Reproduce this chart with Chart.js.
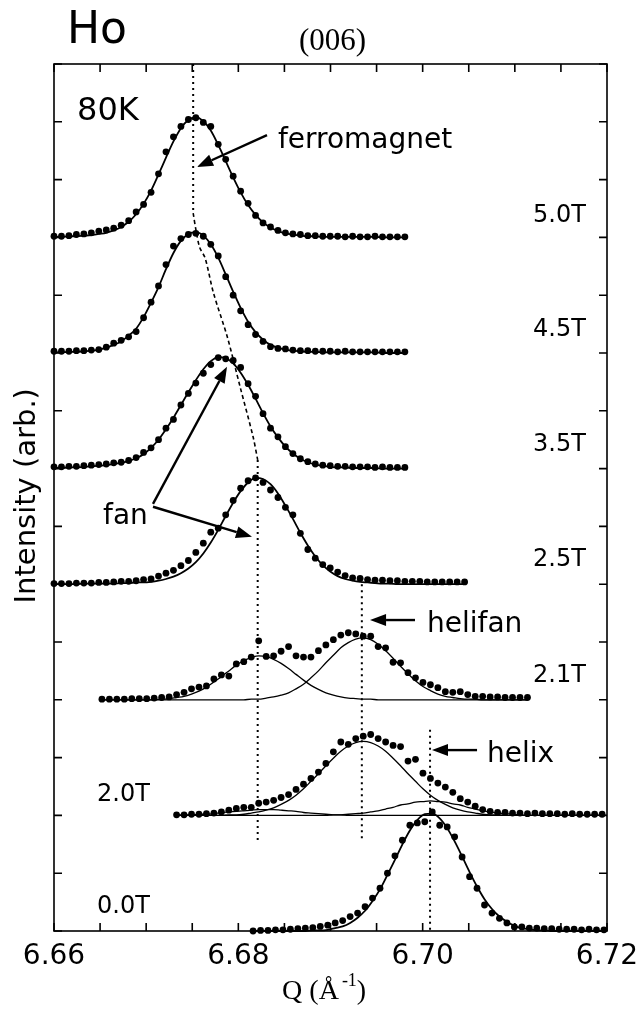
<!DOCTYPE html>
<html>
<head>
<meta charset="utf-8">
<title>Ho (006) field scans</title>
<script src="https://cdn.jsdelivr.net/npm/chart.js@4.4.0/dist/chart.umd.min.js"></script>
<style>
  html, body { margin: 0; padding: 0; background: #fff; }
  #wrap { width: 639px; height: 1011px; }
</style>
</head>
<body>
<div id="wrap"><canvas id="chart" width="639" height="1011"></canvas></div>
<script>
// (006) scans of Ho at 80K, one trace per applied field, stacked by offset
const FIELDS = ['5.0T', '4.5T', '3.5T', '2.5T', '2.1T', '2.0T', '0.0T'];
const OFFSETS = [12, 10, 8, 6, 4, 2, 0];
const Q_START = [6.6600, 6.6600, 6.6600, 6.6600, 6.6652, 6.6733, 6.6816];
const Q_STEP = 0.00081;

// measured intensity (dots) and fitted lines, above each trace's baseline
const OBS_50 = [0.02,0.02,0.03,0.05,0.06,0.08,0.11,0.13,0.16,0.21,0.29,0.44,0.57,0.78,1.10,1.48,1.74,1.92,2.04,2.07,
  1.99,1.92,1.61,1.35,1.06,0.80,0.59,0.38,0.25,0.18,0.12,0.08,0.06,0.05,0.03,0.03,0.02,0.02,0.02,0.01,
  0.02,0.01,0.01,0.02,0.01,0.01,0.01,0.01];
const FIT_50 = [0.01,0.01,0.02,0.02,0.03,0.04,0.06,0.08,0.12,0.18,0.27,0.40,0.58,0.81,1.09,1.38,1.66,1.89,2.03,2.08,
  2.01,1.85,1.60,1.32,1.04,0.78,0.56,0.39,0.26,0.17,0.11,0.07,0.05,0.03,0.02,0.02,0.01,0.01,0.01,0.01,
  0.01,0.01,0.01,0.01,0,0,0,0];

const OBS_45 = [0.03,0.03,0.03,0.04,0.04,0.05,0.06,0.10,0.17,0.22,0.28,0.37,0.61,0.88,1.16,1.53,1.85,1.98,2.05,2.07,
  2.02,1.88,1.68,1.32,1.00,0.73,0.49,0.32,0.20,0.11,0.08,0.07,0.05,0.04,0.04,0.03,0.03,0.03,0.02,0.03,
  0.02,0.02,0.02,0.02,0.02,0.02,0.02,0.02];
const FIT_45 = [0.01,0.01,0.02,0.02,0.03,0.04,0.06,0.09,0.14,0.20,0.30,0.42,0.62,0.87,1.14,1.45,1.73,1.94,2.06,2.09,
  2.03,1.88,1.65,1.36,1.06,0.78,0.54,0.36,0.23,0.14,0.09,0.06,0.04,0.03,0.02,0.02,0.01,0.01,0.01,0.01,
  0.01,0.01,0.01,0.01,0,0,0,0];

const OBS_35 = [0.03,0.03,0.04,0.04,0.05,0.06,0.07,0.08,0.10,0.11,0.14,0.19,0.28,0.36,0.50,0.70,0.85,1.10,1.30,1.48,
  1.65,1.80,1.92,1.90,1.87,1.75,1.47,1.25,0.95,0.70,0.55,0.38,0.26,0.17,0.12,0.08,0.06,0.05,0.04,0.04,
  0.03,0.03,0.03,0.02,0.03,0.02,0.02,0.02];
const FIT_35 = [0.01,0.01,0.02,0.02,0.03,0.04,0.05,0.06,0.08,0.10,0.13,0.18,0.25,0.36,0.50,0.68,0.88,1.10,1.32,1.53,
  1.72,1.86,1.93,1.91,1.82,1.66,1.45,1.21,0.96,0.73,0.54,0.38,0.26,0.17,0.11,0.07,0.05,0.03,0.02,0.02,
  0.01,0.01,0.01,0.01,0,0,0,0];

const OBS_25 = [0.01,0.01,0.01,0.02,0.02,0.02,0.03,0.03,0.04,0.05,0.05,0.06,0.08,0.09,0.14,0.19,0.24,0.32,0.41,0.55,
  0.71,0.90,0.97,1.20,1.45,1.66,1.79,1.84,1.76,1.63,1.50,1.33,1.20,0.88,0.60,0.45,0.34,0.28,0.21,0.15,
  0.11,0.10,0.08,0.07,0.07,0.06,0.06,0.05,0.05,0.05,0.04,0.04,0.04,0.04,0.04,0.04];
const FIT_25 = [0,0,0,0,0.01,0.01,0.01,0.01,0.01,0.02,0.02,0.03,0.03,0.04,0.06,0.09,0.13,0.19,0.27,0.38,
  0.53,0.72,0.94,1.18,1.41,1.61,1.76,1.84,1.82,1.73,1.57,1.36,1.13,0.89,0.67,0.48,0.33,0.22,0.14,0.09,
  0.06,0.04,0.03,0.02,0.01,0.01,0,0,0,0,0,0,0,0,0,0];

const OBS_21 = [0.01,0.01,0.01,0.01,0.02,0.02,0.02,0.03,0.04,0.05,0.09,0.13,0.19,0.22,0.24,0.36,0.43,0.41,0.62,0.66,
  0.74,1.02,0.75,0.76,0.84,0.92,0.76,0.74,0.74,0.85,0.95,1.04,1.12,1.16,1.14,1.10,1.10,0.92,0.90,0.65,
  0.64,0.47,0.38,0.30,0.26,0.21,0.14,0.13,0.14,0.09,0.06,0.06,0.05,0.05,0.04,0.04,0.04,0.04];
const FAN_21 = [0,0,0,0,0,0,0,0,0.01,0.02,0.04,0.06,0.10,0.15,0.22,0.31,0.40,0.50,0.60,0.68,
  0.73,0.76,0.75,0.70,0.63,0.54,0.44,0.34,0.25,0.18,0.12,0.08,0.05,0.03,0.02,0.01,0.01,0,0,0,
  0,0,0,0,0,0,0,0,0,0,0,0,0,0,0,0,0,0];
const HELIFAN_21 = [0,0,0,0,0,0,0,0,0,0,0,0,0,0,0,0,0,0,0,0,
  0.01,0.01,0.03,0.05,0.08,0.12,0.19,0.27,0.38,0.50,0.64,0.77,0.90,0.99,1.05,1.07,1.04,0.96,0.85,0.72,
  0.58,0.45,0.33,0.23,0.16,0.10,0.06,0.04,0.02,0.01,0.01,0,0,0,0,0,0,0];

const OBS_20 = [0.01,0.01,0.02,0.02,0.03,0.04,0.06,0.09,0.12,0.14,0.14,0.21,0.23,0.26,0.31,0.36,0.45,0.54,0.64,0.75,
  0.90,1.10,1.27,1.23,1.33,1.37,1.40,1.33,1.27,1.21,1.19,0.94,0.97,0.73,0.64,0.56,0.49,0.40,0.29,0.23,
  0.16,0.10,0.07,0.05,0.05,0.04,0.04,0.03,0.04,0.03,0.03,0.03,0.02,0.03,0.02,0.02,0.02,0.02];
const FAN_20 = [0,0.01,0.01,0.02,0.02,0.03,0.05,0.06,0.07,0.08,0.09,0.10,0.10,0.10,0.09,0.08,0.07,0.05,0.04,0.03,
  0.02,0.01,0.01,0,0,0,0,0,0,0,0,0,0,0,0,0,0,0,0,0,
  0,0,0,0,0,0,0,0,0,0,0,0,0,0,0,0,0,0];
const HELIFAN_20 = [0,0,0,0,0,0,0,0.01,0.01,0.02,0.04,0.06,0.09,0.13,0.19,0.26,0.35,0.46,0.59,0.72,
  0.86,0.99,1.11,1.20,1.26,1.28,1.26,1.20,1.11,0.99,0.86,0.72,0.59,0.46,0.35,0.26,0.19,0.13,0.09,0.06,
  0.04,0.02,0.01,0.01,0,0,0,0,0,0,0,0,0,0,0,0,0,0];
const HELIX_20 = [0,0,0,0,0,0,0,0,0,0,0,0,0,0,0,0,0,0,0,0,
  0,0.01,0.01,0.02,0.03,0.04,0.06,0.08,0.11,0.14,0.18,0.20,0.23,0.24,0.25,0.24,0.23,0.20,0.18,0.14,
  0.11,0.08,0.06,0.04,0.03,0.02,0.01,0,0,0,0,0,0,0,0,0,0,0];

const OBS_00 = [0.00,0.01,0.01,0.02,0.02,0.03,0.04,0.05,0.06,0.08,0.10,0.14,0.18,0.25,0.31,0.42,0.57,0.74,1.00,1.30,
  1.57,1.83,1.87,1.89,2.06,1.83,1.80,1.63,1.28,0.94,0.74,0.45,0.31,0.22,0.14,0.07,0.07,0.05,0.05,0.04,
  0.04,0.03,0.03,0.03,0.02,0.03,0.02,0.02];
const FIT_00 = [0,0,0,0,0,0,0,0,0.01,0.01,0.02,0.05,0.08,0.14,0.23,0.35,0.52,0.72,0.97,1.23,
  1.50,1.74,1.92,2.02,2.03,1.95,1.78,1.55,1.29,1.02,0.77,0.55,0.38,0.25,0.16,0.09,0.05,0.03,0.01,0.01,
  0,0,0,0,0,0,0,0];

// guide lines (Q, intensity)
const FERRO_Q = [6.6751, 6.6751];
const FERRO_I = [15, 12.42];
const TRACK_Q = [6.6751, 6.6754, 6.6758, 6.6764, 6.6773, 6.6788, 6.6802, 6.6816, 6.6821];
const TRACK_I = [12.42, 12.13, 11.83, 11.64, 11.04, 10.28, 9.41, 8.55, 8.15];
const FAN_Q = [6.6821, 6.6821];
const FAN_I = [8.15, 1.57];
const HELIFAN_Q = [6.6934, 6.6934];
const HELIFAN_I = [6.0, 1.57];
const HELIX_Q = [6.7008, 6.7008];
const HELIX_I = [3.48, 0];

// axes
const X_TICKS = [6.660, 6.665, 6.670, 6.675, 6.680, 6.685, 6.690, 6.695, 6.700, 6.705, 6.710, 6.715, 6.720];
const X_LABEL_VALUES = [6.66, 6.68, 6.70, 6.72];
const X_LABELS = ['6.66', '6.68', '6.70', '6.72'];
const Y_TICKS = [0, 1, 2, 3, 4, 5, 6, 7, 8, 9, 10, 11, 12, 13, 14, 15];

const SANS = '"DejaVu Sans", sans-serif';
const SERIF = '"Liberation Serif", "Times New Roman", serif';

const scans = [
  { obs: OBS_50, fits: [FIT_50] },
  { obs: OBS_45, fits: [FIT_45] },
  { obs: OBS_35, fits: [FIT_35] },
  { obs: OBS_25, fits: [FIT_25] },
  { obs: OBS_21, fits: [FAN_21, HELIFAN_21] },
  { obs: OBS_20, fits: [FAN_20, HELIFAN_20, HELIX_20] },
  { obs: OBS_00, fits: [FIT_00] }
];

function toPoints(q0, values, offset) {
  return values.map((v, k) => ({ x: q0 + k * Q_STEP, y: v + offset }));
}

function pair(qs, is) {
  return qs.map((q, k) => ({ x: q, y: is[k] }));
}

const datasets = [];

scans.forEach((scan, n) => {
  datasets.push({
    label: FIELDS[n] + ' data',
    data: toPoints(Q_START[n], scan.obs, OFFSETS[n]),
    pointRadius: 3.4,
    pointBackgroundColor: '#000',
    pointBorderWidth: 0,
    showLine: false,
    clip: 10
  });
  scan.fits.forEach(fit => {
    datasets.push({
      label: FIELDS[n] + ' fit',
      data: toPoints(Q_START[n], fit, OFFSETS[n]),
      showLine: true,
      pointRadius: 0,
      borderColor: '#000',
      borderWidth: scan.fits.length > 1 ? 1.3 : 1.8,
      cubicInterpolationMode: 'monotone',
      clip: 10
    });
  });
});

function guide(qs, is, dash, width, tension) {
  return {
    label: 'guide',
    data: pair(qs, is),
    showLine: true,
    pointRadius: 0,
    borderColor: '#000',
    borderWidth: width,
    borderDash: dash,
    tension: tension || 0,
    clip: 10
  };
}

datasets.push(guide(FERRO_Q, FERRO_I, [2, 4], 2));
datasets.push(guide(TRACK_Q, TRACK_I, [4, 3], 1.6, 0.3));
datasets.push(guide(FAN_Q, FAN_I, [2, 4], 2));
datasets.push(guide(HELIFAN_Q, HELIFAN_I, [2, 4], 2));
datasets.push(guide(HELIX_Q, HELIX_I, [2, 4], 2));

// text and arrows, placed in (Q, intensity) units
const NOTES = [
  { text: 'Ho', q: 6.66141, i: 15.36, font: '44px ' + SANS },
  { text: '80K', q: 6.66250, i: 14.03, font: '32px ' + SANS },
  { text: 'ferromagnet', q: 6.68430, i: 13.55, font: '28px ' + SANS },
  { text: 'fan', q: 6.66532, i: 7.04, font: '28px ' + SANS },
  { text: 'helifan', q: 6.70047, i: 5.17, font: '28px ' + SANS },
  { text: 'helix', q: 6.70698, i: 2.92, font: '28px ' + SANS }
];

const FIELD_TAGS = [
  { q: 6.71197, i: 12.37 },
  { q: 6.71197, i: 10.40 },
  { q: 6.71197, i: 8.41 },
  { q: 6.71197, i: 6.42 },
  { q: 6.71197, i: 4.41 },
  { q: 6.66467, i: 2.35 },
  { q: 6.66467, i: 0.42 }
];

const ARROWS = [
  { from: [6.68311, 13.77], to: [6.67552, 13.22] },
  { from: [6.67074, 7.39], to: [6.67877, 9.76] },
  { from: [6.67074, 7.34], to: [6.68148, 6.82] },
  { from: [6.69917, 5.38], to: [6.69429, 5.38] },
  { from: [6.70590, 3.13], to: [6.70101, 3.13] }
];

function drawArrow(ctx, x0, y0, x1, y1) {
  const ang = Math.atan2(y1 - y0, x1 - x0);
  const len = 16, half = 6;
  const bx = x1 - len * Math.cos(ang), by = y1 - len * Math.sin(ang);
  ctx.beginPath();
  ctx.moveTo(x0, y0);
  ctx.lineTo(bx, by);
  ctx.stroke();
  ctx.beginPath();
  ctx.moveTo(x1, y1);
  ctx.lineTo(bx + half * Math.sin(ang), by - half * Math.cos(ang));
  ctx.lineTo(bx - half * Math.sin(ang), by + half * Math.cos(ang));
  ctx.closePath();
  ctx.fill();
}

const framePlugin = {
  id: 'frame',
  afterDatasetsDraw(chart) {
    const { ctx, chartArea: a, scales: { x, y } } = chart;
    ctx.save();
    ctx.strokeStyle = '#000';
    ctx.fillStyle = '#000';
    ctx.lineWidth = 1.6;
    ctx.strokeRect(a.left, a.top, a.right - a.left, a.bottom - a.top);

    ctx.beginPath();
    X_TICKS.forEach(v => {
      const px = x.getPixelForValue(v);
      ctx.moveTo(px, a.bottom); ctx.lineTo(px, a.bottom - 8);
      ctx.moveTo(px, a.top); ctx.lineTo(px, a.top + 8);
    });
    Y_TICKS.forEach(v => {
      const py = y.getPixelForValue(v);
      ctx.moveTo(a.left, py); ctx.lineTo(a.left + 8, py);
      ctx.moveTo(a.right, py); ctx.lineTo(a.right - 8, py);
    });
    ctx.stroke();

    // tick labels
    ctx.font = '28px ' + SANS;
    ctx.textAlign = 'center';
    ctx.textBaseline = 'middle';
    X_LABEL_VALUES.forEach((v, k) => {
      ctx.fillText(X_LABELS[k], x.getPixelForValue(v), y.getPixelForValue(-0.45));
    });

    // field tags
    ctx.font = '24px ' + SANS;
    ctx.textAlign = 'left';
    FIELD_TAGS.forEach((t, k) => {
      ctx.fillText(FIELDS[k], x.getPixelForValue(t.q), y.getPixelForValue(t.i));
    });

    // notes
    ctx.textBaseline = 'alphabetic';
    NOTES.forEach(n => {
      ctx.font = n.font;
      ctx.fillText(n.text, x.getPixelForValue(n.q), y.getPixelForValue(n.i));
    });

    // reflection
    ctx.font = '31px ' + SERIF;
    ctx.textAlign = 'center';
    ctx.fillText('(006)', x.getPixelForValue(6.69022), y.getPixelForValue(15.24));

    // x axis title with superscript
    ctx.textAlign = 'left';
    let tx = x.getPixelForValue(6.68475);
    const ty = y.getPixelForValue(-1.17);
    ctx.font = '28px ' + SERIF;
    ctx.fillText('Q (Å', tx, ty);
    tx += ctx.measureText('Q (Å').width + 3;
    ctx.font = '18px ' + SERIF;
    ctx.fillText('-1', tx, ty - 13);
    tx += ctx.measureText('-1').width;
    ctx.font = '28px ' + SERIF;
    ctx.fillText(')', tx, ty);

    // y axis title
    ctx.save();
    ctx.translate(x.getPixelForValue(6.65794), y.getPixelForValue(7.53));
    ctx.rotate(-Math.PI / 2);
    ctx.font = '29px ' + SANS;
    ctx.textAlign = 'center';
    ctx.fillText('Intensity (arb.)', 0, 0);
    ctx.restore();

    // arrows
    ctx.lineWidth = 2.4;
    ARROWS.forEach(ar => {
      drawArrow(ctx,
        x.getPixelForValue(ar.from[0]), y.getPixelForValue(ar.from[1]),
        x.getPixelForValue(ar.to[0]), y.getPixelForValue(ar.to[1]));
    });
    ctx.restore();
  }
};

const chart = new Chart(document.getElementById('chart').getContext('2d'), {
  type: 'scatter',
  data: { datasets },
  options: {
    responsive: false,
    animation: false,
    layout: { padding: { left: 54, right: 32, top: 64, bottom: 80 } },
    scales: {
      x: { type: 'linear', min: 6.66, max: 6.72, display: false },
      y: { type: 'linear', min: 0, max: 15, display: false }
    },
    plugins: {
      legend: { display: false },
      tooltip: { enabled: false }
    }
  },
  plugins: [framePlugin]
});
</script>
</body>
</html>
